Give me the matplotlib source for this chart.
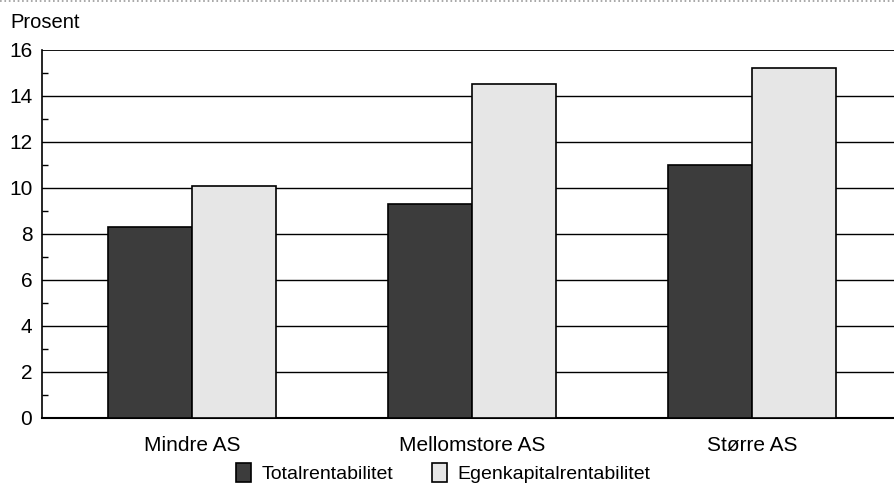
import numpy as np
import matplotlib.pyplot as plt
from matplotlib import font_manager

# data
categories = ["Mindre AS", "Mellomstore AS", "Større AS"]
totalrent = [8.3, 9.3, 11.0]
egenkap = [10.1, 14.5, 15.2]
series_names = ["Totalrentabilitet", "Egenkapitalrentabilitet"]

names = {f.name for f in font_manager.fontManager.ttflist}
fam = "Liberation Sans Narrow" if "Liberation Sans Narrow" in names else "Liberation Sans"
plt.rcParams["font.family"] = [fam, "DejaVu Sans"]

fig = plt.figure(figsize=(8.95, 4.9), dpi=100)
ax = fig.add_axes([0.047, 0.147, 0.953, 0.751])

x = np.arange(len(categories))
w = 0.3
ax.bar(x - w / 2, totalrent, w, color="#3c3c3c", edgecolor="black", linewidth=1.2,
       label=series_names[0], zorder=3)
ax.bar(x + w / 2, egenkap, w, color="#e6e6e6", edgecolor="black", linewidth=1.2,
       label=series_names[1], zorder=3)

ax.set_xlim(-0.536, 2.51)
ax.set_ylim(0, 16)
ax.set_yticks(range(0, 17, 2))
ax.set_yticks(range(1, 16, 2), minor=True)
for v in range(2, 17, 2):
    ax.axhline(v, color="black", lw=1.3 if v == 16 else 1.0, zorder=1)

ax.set_xticks(x)
ax.set_xticklabels(categories, fontsize=15)
ax.tick_params(axis="x", length=0, pad=13)
ax.tick_params(axis="y", which="major", length=0, labelsize=15, pad=7)
ax.tick_params(axis="y", which="minor", direction="in", length=4, width=1)

for s in ["top", "right"]:
    ax.spines[s].set_visible(False)
ax.spines["left"].set_linewidth(1.2)
ax.spines["bottom"].set_linewidth(1.5)

fig.text(0.012, 0.935, "Prosent", fontsize=14.5, ha="left", va="bottom")

fig.legend(loc="lower center", bbox_to_anchor=(0.495, -0.022), ncol=2, frameon=False,
           fontsize=14, handlelength=0.8, handleheight=1.1, columnspacing=2.0,
           handletextpad=0.5)

# faint dotted rule along the top edge
fig.add_artist(plt.Line2D([0, 1], [0.997, 0.997], color="#999999", lw=1.2,
                          ls=":", transform=fig.transFigure))

fig.savefig("out.png", dpi=100)
